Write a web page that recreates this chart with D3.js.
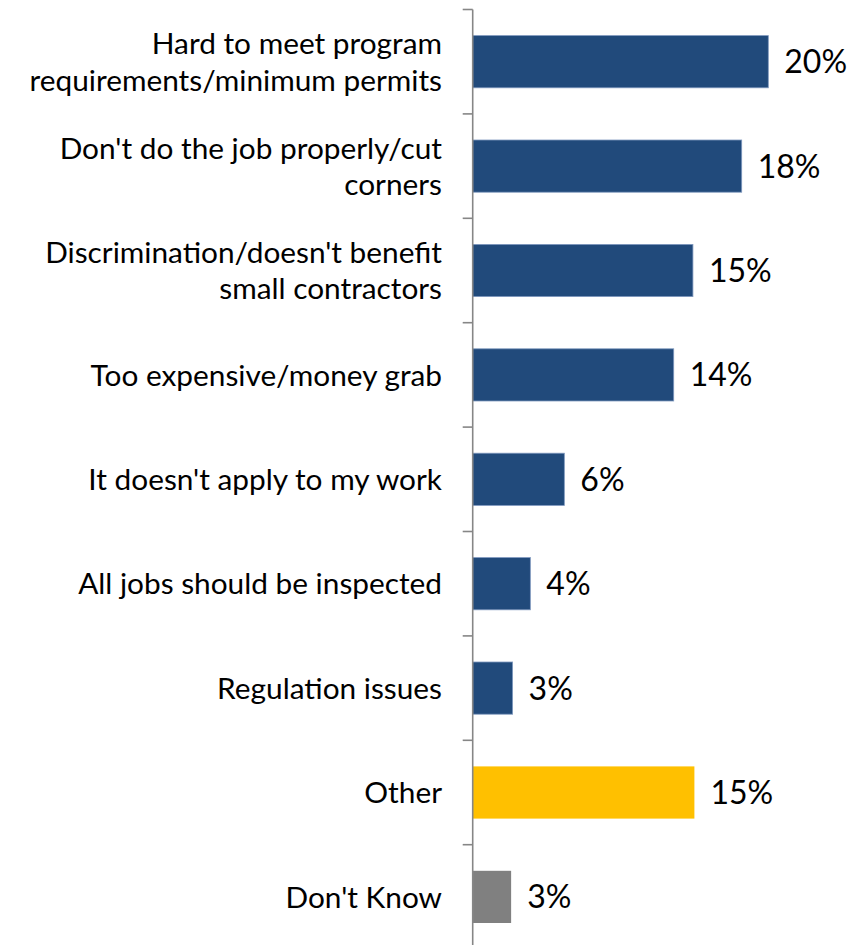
<!DOCTYPE html>
<html>
<head>
<meta charset="utf-8">
<script src="https://cdn.jsdelivr.net/npm/d3@7"></script>
<style>
  html, body { margin: 0; padding: 0; background: #ffffff; overflow: hidden; }
  svg { display: block; }
</style>
</head>
<body>
<svg id="chart" width="867" height="945"></svg>
<script>
// ---- data ----
const categories = [
  "Hard to meet program\nrequirements/minimum permits",
  "Don't do the job properly/cut\ncorners",
  "Discrimination/doesn't benefit\nsmall contractors",
  "Too expensive/money grab",
  "It doesn't apply to my work",
  "All jobs should be inspected",
  "Regulation issues",
  "Other",
  "Don't Know"
];
const values = [20.0, 18.2, 14.9, 13.6, 6.2, 3.9, 2.7, 15.0, 2.6];
const valueLabels = ["20%", "18%", "15%", "14%", "6%", "4%", "3%", "15%", "3%"];

// ---- layout / style ----
const W = 867, H = 945;
const axisX = 472.7;
const plotTop = 9.5, step = 104.4;
const FONT = "Lato, 'Open Sans', sans-serif";
const blue = "#214A7B", yellow = "#FFC000", gray = "#808080";
const colorOf = c => c === "Other" ? yellow : (c === "Don't Know" ? gray : blue);

const svg = d3.select("#chart");

const y = d3.scaleBand()
  .domain(categories)
  .range([plotTop, plotTop + step * categories.length])
  .paddingInner(0.5)
  .paddingOuter(0.25);

const x = d3.scaleLinear().domain([0, 20]).range([axisX, 768.3]);

// fit font size to measured text width
function fitSize(str, targetW) {
  const t = svg.append("text").attr("font-family", FONT).attr("font-size", 100).text(str);
  const w = t.node().getComputedTextLength();
  t.remove();
  return 100 * targetW / w;
}
const catSize = fitSize("Too expensive/money grab", 351.5);
const valSize = 32;

// bars
svg.append("g").selectAll("rect")
  .data(categories)
  .join("rect")
  .attr("x", axisX)
  .attr("y", d => y(d))
  .attr("width", (d, i) => x(values[i]) - axisX)
  .attr("height", y.bandwidth())
  .attr("fill", d => colorOf(d))
  .attr("stroke", d => colorOf(d) === blue ? "#7F98BE" : "none")
  .attr("stroke-width", 0.8);

// axis (domain line + ticks at band boundaries)
const axisG = svg.append("g").attr("transform", `translate(${axisX},0)`);
const bounds = d3.range(categories.length + 1).map(i => plotTop + i * step);
axisG.append("line")
  .attr("x1", 0).attr("x2", 0)
  .attr("y1", plotTop).attr("y2", bounds[bounds.length - 1])
  .attr("stroke", "#868686").attr("stroke-width", 1.6);
axisG.selectAll("line.tick")
  .data(bounds)
  .join("line")
  .attr("class", "tick")
  .attr("x1", -10).attr("x2", 0)
  .attr("y1", d => d).attr("y2", d => d)
  .attr("stroke", "#868686").attr("stroke-width", 1.6);

// category labels
const lineGap = 36.5;
const capC = 0.36; // approx half cap-height in em
const labels = svg.append("g")
  .attr("font-family", FONT)
  .attr("font-size", catSize)
  .attr("fill", "#000")
  .attr("text-anchor", "end");
categories.forEach(c => {
  const lines = c.split("\n");
  const cy = y(c) + y.bandwidth() / 2;
  const t = labels.append("text").attr("x", 442);
  lines.forEach((ln, j) => {
    const base = cy + (j - (lines.length - 1) / 2) * lineGap + capC * catSize;
    t.append("tspan").attr("x", 442).attr("y", base).text(ln);
  });
});

// value labels
svg.append("g")
  .attr("font-family", FONT)
  .attr("font-size", valSize)
  .attr("fill", "#000")
  .selectAll("text")
  .data(categories)
  .join("text")
  .attr("x", (d, i) => x(values[i]) + 16)
  .attr("y", d => y(d) + y.bandwidth() / 2 + capC * valSize)
  .text((d, i) => valueLabels[i]);
</script>
</body>
</html>
